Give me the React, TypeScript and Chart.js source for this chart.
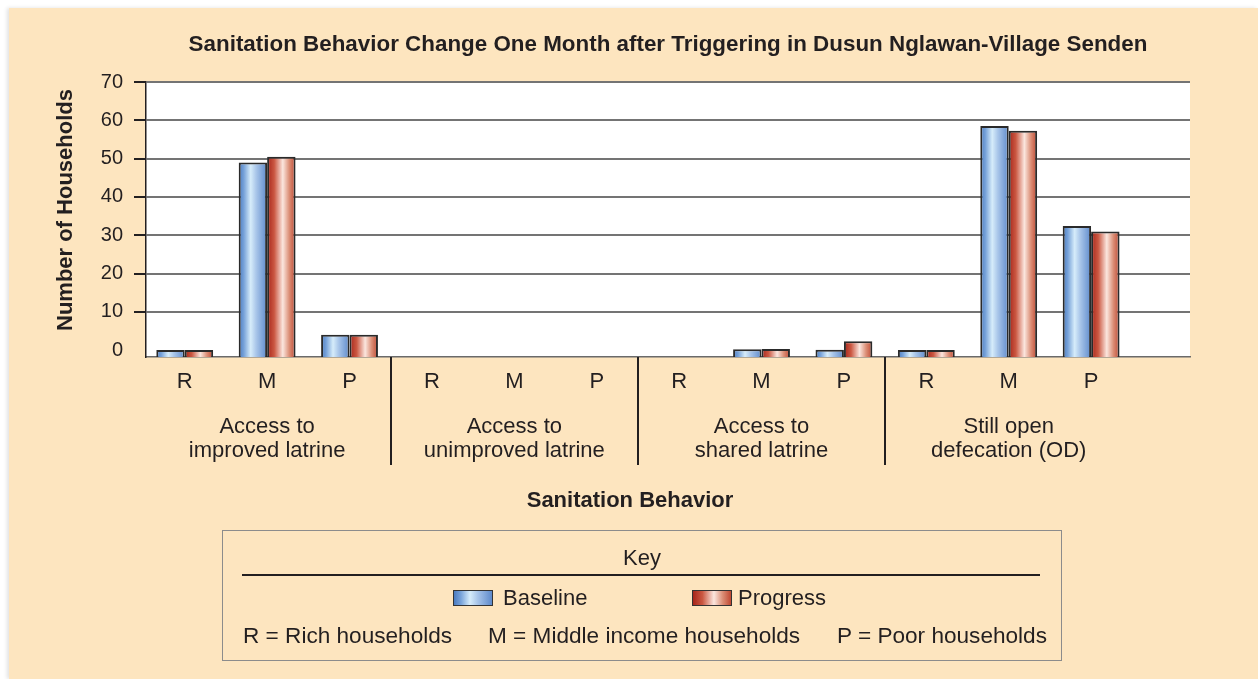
import React, { useEffect, useRef } from 'react';
import { Chart, registerables } from 'chart.js';

Chart.register(...registerables);

// ---------- data ----------
const xLabels = ['R', 'M', 'P', 'R', 'M', 'P', 'R', 'M', 'P', 'R', 'M', 'P'];
const groupLabels = [
  ['Access to', 'improved latrine'],
  ['Access to', 'unimproved latrine'],
  ['Access to', 'shared latrine'],
  ['Still open', 'defecation (OD)'],
];
const baseline = [0, 49, 4, null, null, null, null, 0.2, 0.1, 0, 58.5, 32.4];
const progress = [0, 50.5, 4, null, null, null, null, 0.3, 2.3, 0, 57.3, 31];
const yTickValues = [0, 10, 20, 30, 40, 50, 60, 70];

const chartTitle = 'Sanitation Behavior Change One Month after Triggering in Dusun Nglawan-Village Senden';
const yTitle = 'Number of Households';
const xTitle = 'Sanitation Behavior';
const keyTitle = 'Key';
const seriesNames = ['Baseline', 'Progress'];
const keyNotes = ['R = Rich households', 'M = Middle income households', 'P = Poor households'];

// ---------- styles ----------
const FONT = "'Liberation Sans', Arial, Helvetica, sans-serif";
const TEXT = '#231f20';
const BEIGE = '#fde5bf';
const GRID = '#747474';
const Y_FLOOR = -1.8;
const CAT_PCT = 0.69;
const BLUE_STOPS: [number, string][] = [
  [0, '#4a7bc0'], [0.18, '#77a2d9'], [0.42, '#d6ecfa'], [0.62, '#a8c5e9'], [1, '#5e8acb'],
];
const RED_STOPS: [number, string][] = [
  [0, '#a6251a'], [0.25, '#cb5842'], [0.55, '#fbe6de'], [0.78, '#db8e76'], [1, '#bf4832'],
];
const cssGrad = (stops: [number, string][]) =>
  `linear-gradient(to right, ${stops.map(([o, c]) => `${c} ${o * 100}%`).join(', ')})`;

function barGradient(c: any, stops: [number, string][]) {
  const chart = c.chart;
  const xs = chart.scales && chart.scales.x;
  if (!xs || c.type !== 'data' || !isFinite(xs.getPixelForValue(0))) return stops[2][1];
  const unit = xs.getPixelForValue(1) - xs.getPixelForValue(0);
  const w = (unit * CAT_PCT) / 2;
  const center = xs.getPixelForValue(c.dataIndex);
  const left = c.datasetIndex === 0 ? center - w : center;
  const g = chart.ctx.createLinearGradient(left, 0, left + w, 0);
  stops.forEach(([o, col]) => g.addColorStop(o, col));
  return g;
}

const decorPlugin = {
  id: 'decor',
  beforeDraw(chart: any) {
    const { ctx, chartArea } = chart;
    ctx.save();
    ctx.fillStyle = '#ffffff';
    ctx.fillRect(chartArea.left, chartArea.top, chartArea.width, chartArea.height);
    ctx.restore();
  },
  afterDraw(chart: any) {
    const { ctx, chartArea } = chart;
    const xs = chart.scales.x;
    const bottom = chartArea.bottom;
    ctx.save();
    ctx.fillStyle = TEXT;
    ctx.textAlign = 'center';
    ctx.textBaseline = 'middle';
    ctx.font = `22px ${FONT}`;
    groupLabels.forEach((lines, g) => {
      const cx = xs.getPixelForValue(g * 3 + 1);
      lines.forEach((t, k) => ctx.fillText(t, cx, bottom + 70 + k * 24));
    });
    ctx.strokeStyle = TEXT;
    ctx.lineWidth = 2;
    for (let g = 1; g < groupLabels.length; g++) {
      const x = Math.round(xs.getPixelForValue(g * 3 - 0.5));
      ctx.beginPath();
      ctx.moveTo(x, bottom);
      ctx.lineTo(x, bottom + 108);
      ctx.stroke();
    }
    ctx.font = `bold 22px ${FONT}`;
    ctx.fillText(xTitle, 621, bottom + 144);
    // y-axis title
    ctx.translate(57, 202);
    ctx.rotate(-Math.PI / 2);
    ctx.fillText(yTitle, 0, 0);
    ctx.restore();
  },
};

export default function App() {
  const ref = useRef<HTMLCanvasElement | null>(null);

  useEffect(() => {
    if (!ref.current) return;
    Chart.defaults.font.family = FONT;
    Chart.defaults.color = TEXT;
    const chart = new Chart(ref.current, {
      type: 'bar',
      data: {
        datasets: [
          {
            label: seriesNames[0],
            data: baseline.map((v, i) => ({ x: i, y: v })) as any,
            backgroundColor: (c: any) => barGradient(c, BLUE_STOPS),
            borderColor: '#2a2a2a',
            borderWidth: 2,
            base: Y_FLOOR,
            categoryPercentage: CAT_PCT,
            barPercentage: 1,
          } as any,
          {
            label: seriesNames[1],
            data: progress.map((v, i) => ({ x: i, y: v })) as any,
            backgroundColor: (c: any) => barGradient(c, RED_STOPS),
            borderColor: '#2a2a2a',
            borderWidth: 2,
            base: Y_FLOOR,
            categoryPercentage: CAT_PCT,
            barPercentage: 1,
          } as any,
        ],
      },
      options: {
        animation: false,
        responsive: false,
        devicePixelRatio: 1,
        layout: { padding: { left: 0, right: 68, top: 0, bottom: 282 } },
        plugins: {
          legend: { display: false },
          tooltip: { enabled: false },
          title: {
            display: true,
            fullSize: false,
            text: chartTitle,
            color: TEXT,
            font: { size: 22.4, weight: 'bold', family: FONT },
            padding: { top: 23.6, bottom: 23.6 },
          },
        },
        scales: {
          x: {
            type: 'linear',
            offset: false,
            min: -0.47,
            max: 12.2,
            afterBuildTicks: (axis: any) => {
              axis.ticks = xLabels.map((_, i) => ({ value: i }));
            },
            afterFit: (axis: any) => {
              axis.height = 40;
            },
            ticks: {
              autoSkip: false,
              maxRotation: 0,
              padding: 12,
              font: { size: 22 },
              color: TEXT,
              callback: (_v: any, i: number) => xLabels[i],
            },
            grid: { display: false, drawTicks: false, offset: false },
            border: { display: true, color: '#6a6a6a', width: 1.5 },
          },
          y: {
            type: 'linear',
            min: Y_FLOOR,
            max: 70,
            afterBuildTicks: (axis: any) => {
              axis.ticks = yTickValues.map((v) => ({ value: v }));
            },
            afterFit: (axis: any) => {
              axis.width = 137;
            },
            ticks: { padding: 11, font: { size: 20 }, color: TEXT },
            grid: {
              color: (c: any) => (c.tick && c.tick.value === 0 ? 'rgba(0,0,0,0)' : GRID),
              tickColor: (c: any) => (c.tick && c.tick.value === 0 ? 'rgba(0,0,0,0)' : TEXT),
              lineWidth: 2,
              tickWidth: 2,
              tickLength: 12,
            },
            border: { display: true, color: TEXT, width: 1.5 },
            title: { display: false },
          },
        },
      },
      plugins: [decorPlugin],
    } as any);
    return () => chart.destroy();
  }, []);

  const txt: React.CSSProperties = {
    position: 'absolute',
    fontFamily: FONT,
    fontSize: 22,
    lineHeight: '26px',
    color: TEXT,
    whiteSpace: 'nowrap',
  };
  const note: React.CSSProperties = { ...txt, fontSize: 22.6, top: 92 };
  const swatch = (stops: [number, string][], left: number): React.CSSProperties => ({
    position: 'absolute',
    left,
    top: 59,
    width: 40,
    height: 16,
    boxSizing: 'border-box',
    border: '1.5px solid #333',
    background: cssGrad(stops),
  });

  return (
    <div
      style={{
        position: 'fixed',
        left: 9,
        top: 8,
        width: 1249,
        height: 671,
        background: BEIGE,
        boxShadow: '-2px 0 4px rgba(0,0,0,0.12)',
        overflow: 'hidden',
      }}
    >
      <canvas ref={ref} width={1249} height={671} style={{ display: 'block', width: 1249, height: 671 }} />
      <div
        style={{
          position: 'absolute',
          left: 213,
          top: 522,
          width: 840,
          height: 131,
          boxSizing: 'border-box',
          border: '1px solid #8c8c8c',
        }}
      >
        <div style={{ ...txt, left: 0, right: 0, top: 14, textAlign: 'center' }}>{keyTitle}</div>
        <div style={{ position: 'absolute', left: 19, width: 798, top: 43, height: 2, background: TEXT }} />
        <div style={swatch(BLUE_STOPS, 230)} />
        <div style={{ ...txt, left: 280, top: 54 }}>{seriesNames[0]}</div>
        <div style={swatch(RED_STOPS, 469)} />
        <div style={{ ...txt, left: 515, top: 54 }}>{seriesNames[1]}</div>
        <div style={{ ...note, left: 20 }}>{keyNotes[0]}</div>
        <div style={{ ...note, left: 265 }}>{keyNotes[1]}</div>
        <div style={{ ...note, left: 614 }}>{keyNotes[2]}</div>
      </div>
    </div>
  );
}
